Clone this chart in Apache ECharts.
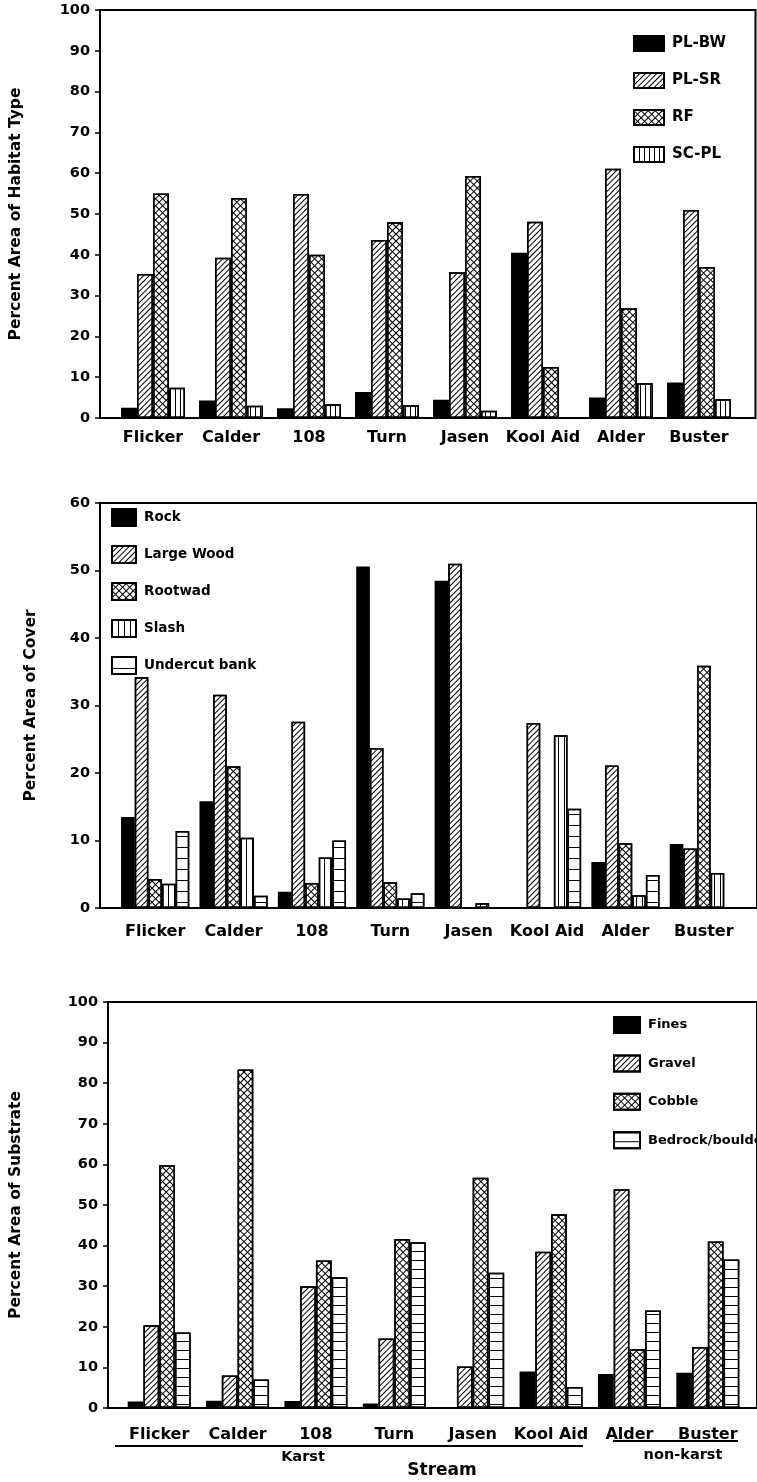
<!DOCTYPE html>
<html><head><meta charset="utf-8">
<script src="https://cdn.jsdelivr.net/npm/echarts@6/dist/echarts.min.js"></script>
<style>html,body{margin:0;padding:0;background:#fff}#c{width:757px;height:1482px}</style>
</head><body><div id="c"></div>
<script>
// ---------- DATA ----------
const categories = ['Flicker', 'Calder', '108', 'Turn', 'Jasen', 'Kool Aid', 'Alder', 'Buster'];

// Chart 1: Percent Area of Habitat Type
const habitatNames = ['PL-BW', 'PL-SR', 'RF', 'SC-PL'];
const habitatPLBW = [2.5, 4.3, 2.4, 6.4, 4.5, 40.5, 5.0, 8.7];
const habitatPLSR = [35.3, 39.3, 54.9, 43.6, 35.7, 48.1, 61.1, 51.0];
const habitatRF   = [55.0, 53.9, 40.0, 48.0, 59.3, 12.5, 26.9, 37.0];
const habitatSCPL = [7.4, 3.0, 3.4, 3.1, 1.8, 0, 8.5, 4.6];
const habitatTicks = [0, 10, 20, 30, 40, 50, 60, 70, 80, 90, 100];

// Chart 2: Percent Area of Cover
const coverNames = ['Rock', 'Large Wood', 'Rootwad', 'Slash', 'Undercut bank'];
const coverRock      = [13.5, 15.8, 2.4, 50.6, 48.5, 0, 6.8, 9.5];
const coverLargeWood = [34.2, 31.6, 27.6, 23.7, 51.0, 27.4, 21.1, 8.8];
const coverRootwad   = [4.3, 21.0, 3.7, 3.8, 0, 0, 9.6, 35.9];
const coverSlash     = [3.6, 10.4, 7.5, 1.4, 0.7, 25.6, 1.9, 5.2];
const coverUndercut  = [11.4, 1.8, 10.0, 2.2, 0, 14.7, 4.9, 0];
const coverTicks = [0, 10, 20, 30, 40, 50, 60];

// Chart 3: Percent Area of Substrate
const substrateNames = ['Fines', 'Gravel', 'Cobble', 'Bedrock/boulder'];
const substrateFines   = [1.6, 1.8, 1.7, 1.1, 0, 9.0, 8.4, 8.7];
const substrateGravel  = [20.4, 8.0, 30.0, 17.1, 10.2, 38.5, 53.9, 15.0];
const substrateCobble  = [59.8, 83.4, 36.3, 41.6, 56.7, 47.7, 14.5, 41.0];
const substrateBedrock = [18.6, 7.0, 32.2, 40.8, 33.3, 5.2, 24.0, 36.6];
const substrateTicks = [0, 10, 20, 30, 40, 50, 60, 70, 80, 90, 100];

const groupNames = ['Karst', 'non-karst'];
const xTitle = 'Stream';
const yTitles = ['Percent Area of Habitat Type', 'Percent Area of Cover', 'Percent Area of Substrate'];

// ---------- STYLES ----------
const FONT = 'DejaVu Sans';
const BLK = '#000';
function decal(dx, dy, rot) {
  return { symbol: 'rect', symbolSize: 1, color: BLK, backgroundColor: null, dashArrayX: dx, dashArrayY: dy, rotation: rot || 0 };
}
const P = {
  solid: { color: BLK },
  diag: { color: '#fff', decal: decal([1, 0], [1, 3], -Math.PI / 4) },
  cross: { color: '#fff', decal: decal([[1, 0], [1, 4]], [1, 0, 4, 0], Math.PI / 4) },
  vert: { color: '#fff', decal: decal([1, 4], [4, 0]) },
  vert2: { color: '#fff', decal: decal([1, 5], [4, 0]) },
  horiz: { color: '#fff', decal: decal([1, 0], [1, 10]) },
  horiz2: { color: '#fff', decal: decal([1, 0], [1, 8]) }
};

function barSeries(name, data, pat, idx, gap) {
  return {
    type: 'bar', name: name, data: data,
    xAxisIndex: idx, yAxisIndex: idx,
    barGap: '0%', barCategoryGap: gap,
    itemStyle: Object.assign({ borderColor: BLK, borderWidth: 1.5 }, pat),
    emphasis: { disabled: true }, animation: false
  };
}

const frames = [
  { left: 100, top: 10, width: 655.5, height: 408 },
  { left: 100, top: 503, width: 657, height: 405 },
  { left: 108, top: 1002, width: 652, height: 406 }
];
const barGrids = [
  { left: 114, top: 10, width: 624, height: 408 },
  { left: 116, top: 503, width: 627, height: 405 },
  { left: 120, top: 1002, width: 627, height: 406 }
];
const ticksArr = [habitatTicks, coverTicks, substrateTicks];
const nameGaps = [76, 61, 84];
const labelMargins = [12, 16, 19];

const grid = [], xAxis = [], yAxis = [];
for (let i = 0; i < 3; i++) {
  const t = ticksArr[i];
  grid.push(Object.assign({ show: true, borderColor: BLK, borderWidth: 2, backgroundColor: 'transparent' }, frames[i]));
  grid.push(Object.assign({}, barGrids[i]));
  xAxis.push({ type: 'value', gridIndex: 2 * i, show: false, min: 0, max: 1 });
  xAxis.push({
    type: 'category', gridIndex: 2 * i + 1, data: categories,
    axisLine: { show: false }, axisTick: { show: false }, splitLine: { show: false },
    axisLabel: { interval: 0, color: BLK, fontFamily: FONT, fontWeight: 'bold', fontSize: 16, margin: labelMargins[i] }
  });
  yAxis.push({
    type: 'value', gridIndex: 2 * i, min: t[0], max: t[t.length - 1], interval: t[1] - t[0],
    name: yTitles[i], nameLocation: 'middle', nameGap: nameGaps[i],
    nameTextStyle: { color: BLK, fontFamily: FONT, fontWeight: 'bold', fontSize: 15.5 },
    axisLine: { show: true, lineStyle: { color: BLK, width: 2 } },
    axisTick: { show: true, inside: false, length: 5, lineStyle: { color: BLK, width: 1.5 } },
    axisLabel: { color: BLK, fontFamily: FONT, fontWeight: 'bold', fontSize: 14.5, margin: 10 },
    splitLine: { show: false }
  });
  yAxis.push({ type: 'value', gridIndex: 2 * i + 1, min: t[0], max: t[t.length - 1], show: false, splitLine: { show: false } });
}

const series = [
  barSeries(habitatNames[0], habitatPLBW, P.solid, 1, '18%'),
  barSeries(habitatNames[1], habitatPLSR, P.diag, 1, '18%'),
  barSeries(habitatNames[2], habitatRF, P.cross, 1, '18%'),
  barSeries(habitatNames[3], habitatSCPL, P.vert, 1, '18%'),
  barSeries(coverNames[0], coverRock, P.solid, 3, '13%'),
  barSeries(coverNames[1], coverLargeWood, P.diag, 3, '13%'),
  barSeries(coverNames[2], coverRootwad, P.cross, 3, '13%'),
  barSeries(coverNames[3], coverSlash, P.vert2, 3, '13%'),
  barSeries(coverNames[4], coverUndercut, P.horiz, 3, '13%'),
  barSeries(substrateNames[0], substrateFines, P.solid, 5, '19.6%'),
  barSeries(substrateNames[1], substrateGravel, P.diag, 5, '19.6%'),
  barSeries(substrateNames[2], substrateCobble, P.cross, 5, '19.6%'),
  barSeries(substrateNames[3], substrateBedrock, P.horiz2, 5, '19.6%')
];

function legend(names, left, top, w, h, gap, fs) {
  return {
    data: names, orient: 'vertical', left: left, top: top, padding: 0,
    itemWidth: w, itemHeight: h, itemGap: gap, icon: 'rect', selectedMode: false,
    textStyle: { color: BLK, fontFamily: FONT, fontWeight: 'bold', fontSize: fs, padding: [0, 0, 0, 3] }
  };
}

const textFont = (s) => '700 ' + s + 'px "' + FONT + '"';
const option = {
  backgroundColor: '#fff',
  animation: false,
  grid: grid, xAxis: xAxis, yAxis: yAxis, series: series,
  legend: [
    legend(habitatNames, 633, 35, 30, 15, 20, 15),
    legend(coverNames, 111, 508, 24, 17, 18, 13.5),
    legend(substrateNames, 613, 1016, 26, 16, 20.4, 13)
  ],
  graphic: [
    { type: 'line', shape: { x1: 115, y1: 1446, x2: 583, y2: 1446 }, style: { stroke: BLK, lineWidth: 2 } },
    { type: 'line', shape: { x1: 613, y1: 1441, x2: 738, y2: 1441 }, style: { stroke: BLK, lineWidth: 2 } },
    { type: 'text', x: 303, y: 1457, style: { text: groupNames[0], font: textFont(14.5), fill: BLK, align: 'center', verticalAlign: 'middle' } },
    { type: 'text', x: 683, y: 1455, style: { text: groupNames[1], font: textFont(14.5), fill: BLK, align: 'center', verticalAlign: 'middle' } },
    { type: 'text', x: 442, y: 1471, style: { text: xTitle, font: textFont(17), fill: BLK, align: 'center', verticalAlign: 'middle' } }
  ]
};

const chart = echarts.init(document.getElementById('c'), null, { renderer: 'canvas', devicePixelRatio: 1 });
chart.setOption(option);
</script>
</body></html>
